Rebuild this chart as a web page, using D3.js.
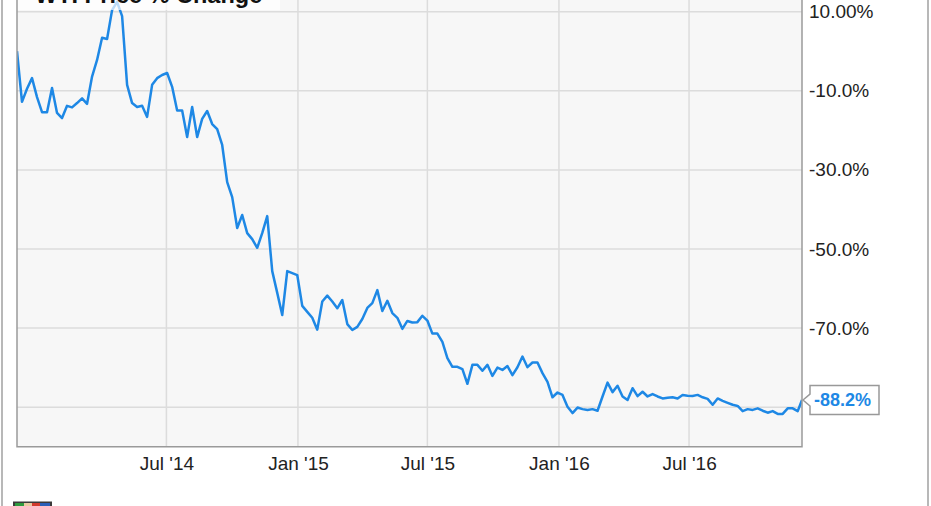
<!DOCTYPE html>
<html><head><meta charset="utf-8">
<script src="https://cdn.jsdelivr.net/npm/d3@7"></script>
<style>html,body{margin:0;padding:0;background:#fff;overflow:hidden}</style>
</head><body>
<svg id="chart" width="931" height="506"></svg>
<script>
// ---- data ----
const title = "WTI Price % Change";
const startDate = "2013-12-04";   // first weekly observation
const lastDate = "2016-12-06";    // final observation
const pctChange = [
  0, -12.8, -9.5, -6.8, -11.6, -15.4, -15.4, -9.3, -15.6, -16.9,
  -13.8, -14.2, -13.1, -11.9, -13.3, -6.4, -2.2, 3.4, 3.1, 10.4,
  12.5, 8.9, -8.5, -13.1, -14.1, -13.8, -16.6, -8.5, -6.8, -6.0,
  -5.5, -9.0, -15.0, -15.0, -21.7, -14.1, -21.7, -17.1, -15.1, -18.4,
  -19.7, -23.7, -33.1, -36.9, -44.7, -41.4, -46.0, -47.5, -49.7, -46.0,
  -41.7, -55.6, -61.1, -66.7, -55.6, -56.1, -56.6, -64.4, -65.9, -67.4,
  -70.4, -63.3, -61.8, -63.3, -65.0, -62.9, -69.0, -70.5, -69.7, -67.7,
  -64.9, -63.7, -60.4, -65.7, -63.1, -66.2, -67.4, -70.2, -68.2, -68.6,
  -68.5, -66.9, -68.1, -71.4, -71.4, -73.5, -77.6, -79.8, -79.8, -80.4,
  -84.1, -79.3, -79.3, -80.8, -79.3, -82.1, -80.0, -80.6, -79.6, -81.9,
  -79.9, -77.2, -79.9, -78.7, -78.7, -81.4, -83.6, -87.5, -86.3, -86.9,
  -89.9, -91.5, -90.1, -90.5, -90.7, -90.5, -90.9, -87.3, -83.8, -86.2,
  -84.6, -87.3, -88.2, -85.2, -87.2, -86.1, -87.3, -86.7, -87.3, -87.8,
  -87.6, -87.5, -87.8, -86.9, -87.1, -87.2, -86.9, -87.5, -87.9, -89.4,
  -87.8, -88.4, -88.9, -89.4, -89.7, -91.0, -90.5, -90.7, -90.3, -90.9,
  -91.4, -91.0, -91.7, -91.7, -90.3, -90.3, -91.0, -88.2
];
const yGridValues = [10, -10, -30, -50, -70, -90];
const yTickValues = [10, -10, -30, -50, -70];          // -90 label is hidden by the callout
const yTickLabels = ["10.00%", "-10.0%", "-30.0%", "-50.0%", "-70.0%"];
const xTickDates = ["2014-07-01", "2015-01-01", "2015-07-01", "2016-01-01", "2016-07-01"];
const xTickLabels = ["Jul '14", "Jan '15", "Jul '15", "Jan '16", "Jul '16"];
const lastLabel = "-88.2%";

// ---- layout ----
const FONT = "'Liberation Sans', Arial, Helvetica, sans-serif";
const plot = {left: 17, right: 802, top: -10, bottom: 446.7};
const parse = d3.timeParse("%Y-%m-%d");
const t0 = parse(startDate), tEnd = parse(lastDate);
const dates = pctChange.map((v, i) => i === pctChange.length - 1 ? tEnd : d3.timeDay.offset(t0, 7 * i));
const data = pctChange.map((v, i) => ({date: dates[i], value: v}));

const x = d3.scaleTime().domain([t0, tEnd]).range([plot.left, plot.right]);
const y = d3.scaleLinear().domain([-100, 10]).range([plot.bottom, 11.7]);

const svg = d3.select("#chart");

// outer frame lines
svg.append("line").attr("x1", 2).attr("x2", 2).attr("y1", 0).attr("y2", 506)
  .attr("stroke", "#a0a0a0").attr("stroke-width", 1.5);
svg.append("line").attr("x1", 928).attr("x2", 928).attr("y1", 0).attr("y2", 506)
  .attr("stroke", "#a0a0a0").attr("stroke-width", 1.5);

// plot background
svg.append("rect").attr("x", plot.left).attr("y", plot.top)
  .attr("width", plot.right - plot.left).attr("height", plot.bottom - plot.top)
  .attr("fill", "#f7f7f7");

// gridlines
const xTicks = xTickDates.map(parse);
svg.append("g").selectAll("line").data(xTicks).join("line")
  .attr("x1", d => x(d)).attr("x2", d => x(d))
  .attr("y1", plot.top).attr("y2", plot.bottom)
  .attr("stroke", "#dcdcdc").attr("stroke-width", 1.5);
svg.append("g").selectAll("line").data(yGridValues).join("line")
  .attr("x1", plot.left).attr("x2", plot.right)
  .attr("y1", d => y(d)).attr("y2", d => y(d))
  .attr("stroke", "#dcdcdc").attr("stroke-width", 1.5);

// line
svg.append("clipPath").attr("id", "clip").append("rect")
  .attr("x", plot.left).attr("y", plot.top)
  .attr("width", plot.right - plot.left).attr("height", plot.bottom - plot.top);
svg.append("path").datum(data)
  .attr("clip-path", "url(#clip)")
  .attr("fill", "none").attr("stroke", "#1e88e5").attr("stroke-width", 2.5)
  .attr("stroke-linejoin", "round")
  .attr("d", d3.line().x(d => x(d.date)).y(d => y(d.value)));

// title box (semi-transparent) and title
svg.append("rect").attr("x", plot.left).attr("y", -30).attr("width", 263).attr("height", 40)
  .attr("fill", "#ffffff").attr("fill-opacity", 0.7);
svg.append("text").attr("x", 35).attr("y", 3)
  .attr("font-family", FONT).attr("font-size", 23.5).attr("font-weight", "bold")
  .attr("fill", "#111").text(title);

// plot border
svg.append("path")
  .attr("d", `M${plot.left},${plot.top}V${plot.bottom}H${plot.right}V${plot.top}`)
  .attr("fill", "none").attr("stroke", "#9a9a9a").attr("stroke-width", 1.5);

// right axis
const yAxis = d3.axisRight(y).tickValues(yTickValues).tickSize(0).tickPadding(7)
  .tickFormat((d, i) => yTickLabels[i]);
const gy = svg.append("g").attr("transform", `translate(${plot.right},0)`).call(yAxis);
gy.select(".domain").remove();
gy.selectAll("text").attr("font-family", FONT).attr("font-size", 19).attr("fill", "#222");

// bottom axis
const xAxis = d3.axisBottom(x).tickValues(xTicks).tickSize(0).tickPadding(10)
  .tickFormat((d, i) => xTickLabels[i]);
const gx = svg.append("g").attr("transform", `translate(0,${plot.bottom})`).call(xAxis);
gx.select(".domain").remove();
gx.selectAll("text").attr("font-family", FONT).attr("font-size", 19).attr("fill", "#222");

// last value callout
const last = data[data.length - 1];
const lx = x(last.date), ly = y(last.value);
const bx0 = lx + 8, bx1 = lx + 77, bh = 14.5;
svg.append("path")
  .attr("d", `M${lx + 1},${ly}L${bx0},${ly - 6}V${ly - bh}H${bx1}V${ly + bh}H${bx0}V${ly + 6}Z`)
  .attr("fill", "#fff").attr("stroke", "#999").attr("stroke-width", 1.5);
svg.append("text").attr("x", bx0 + 4).attr("y", ly).attr("dy", "0.35em")
  .attr("font-family", FONT).attr("font-size", 18).attr("font-weight", "bold")
  .attr("fill", "#1e88e5").text(lastLabel);

// small logo at bottom-left (cut off by the frame)
const logo = svg.append("g").attr("transform", "translate(13,501.5)");
logo.append("rect").attr("width", 39).attr("height", 10).attr("fill", "#3a3a3a");
logo.append("rect").attr("x", 2).attr("y", 1.5).attr("width", 9).attr("height", 8).attr("fill", "#2e9a3e");
logo.append("rect").attr("x", 11).attr("y", 1.5).attr("width", 8).attr("height", 8).attr("fill", "#e8c9a0");
logo.append("rect").attr("x", 19).attr("y", 1.5).attr("width", 8).attr("height", 8).attr("fill", "#d23a2e");
logo.append("rect").attr("x", 27).attr("y", 1.5).attr("width", 10).attr("height", 8).attr("fill", "#2b5fb8");
</script>
</body></html>
